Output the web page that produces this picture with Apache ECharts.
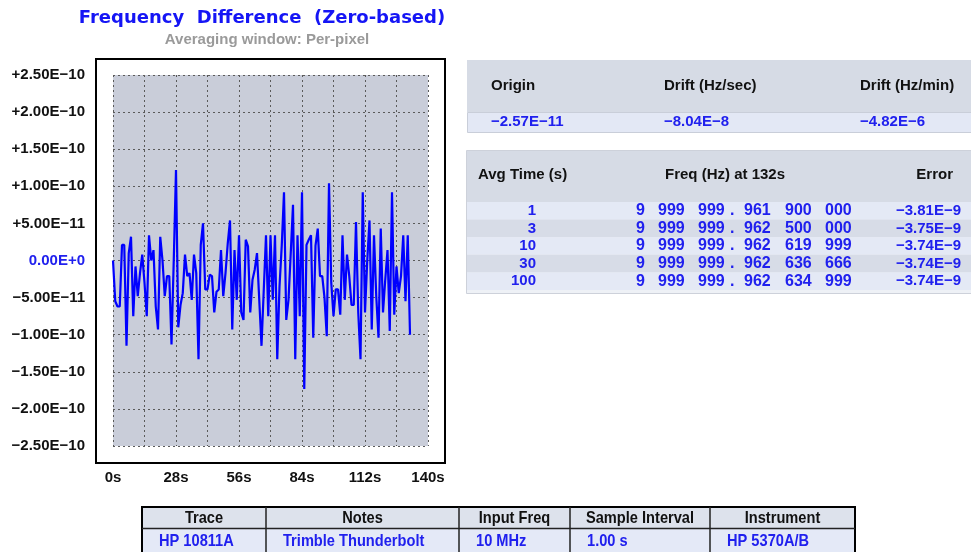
<!DOCTYPE html>
<html>
<head>
<meta charset="utf-8">
<script src="https://cdn.jsdelivr.net/npm/echarts@6/dist/echarts.min.js"></script>
<style>
  html, body { margin: 0; padding: 0; background: #fff; }
  #chart { width: 971px; height: 552px; }
</style>
</head>
<body>
<div id="chart"></div>
<script>
// frequency difference, in units of 1E-10, one sample per second (0..132 s)
const freqDiff = [
  0.0, -0.55, -0.62, -0.62, 0.21, 0.21, -1.15, 0.1, 0.32, -0.75,
  -0.08, -0.48, -0.17, 0.08, -0.3, -0.75, 0.34, 0.0, 0.14, -0.62,
  -0.93, 0.32, 0.0, -0.48, -0.21, -0.21, -1.13, 0.0, 1.22, -0.9,
  -0.6, -0.44, 0.08, -0.21,
  -0.17, -0.53, 0.08, -0.17, -1.33, 0.21, 0.5, -0.39, -0.39, -0.19,
  -0.21, -0.7, -0.42, -0.39, 0.14, -0.48, -0.17, 0.23, 0.54, -0.93,
  0.14, -0.53, 0.34, -0.7, -0.8, 0.28, 0.19, -0.7, -0.26, -0.12,
  0.1, -0.53, -1.15, -0.4,
  0.34, -0.75, 0.34, -0.53, 0.34, -1.33, -0.35, 0.2, 0.92, -0.8,
  -0.53, 0.1, 0.75, -1.33, 0.34, -0.75, 0.92, -1.73, 0.21, 0.28,
  0.34, -1.04, 0.2, 0.43, -0.21, -0.21, -0.5, -1.02, 1.04, -0.3,
  -0.75, -0.39, -0.39, -0.73,
  0.34, -0.53, 0.08, -0.21, -0.6, -0.6, 0.52, -0.7, -1.33, 0.92,
  -0.7, 0.0, 0.54, -0.93, 0.34, -0.48, -1.04, 0.43, -0.7, -0.26,
  0.14, -0.95, 0.92, -0.73, -0.08, -0.44, -0.21, 0.34, -0.55, 0.34,
  -1.0
];
const sampleInterval = 1; // seconds

const xTickLabels = ['0s', '28s', '56s', '84s', '112s', '140s'];
const yTickLabels = ['−2.50E−10', '−2.00E−10', '−1.50E−10', '−1.00E−10', '−5.00E−11',
  '0.00E+0', '+5.00E−11', '+1.00E−10', '+1.50E−10', '+2.00E−10', '+2.50E−10'];

// fit table
const fitHeaders = ['Origin', 'Drift (Hz/sec)', 'Drift (Hz/min)'];
const fitValues = ['−2.57E−11', '−8.04E−8', '−4.82E−6'];

// averaging table
const avgHeaders = ['Avg Time (s)', 'Freq (Hz) at 132s', 'Error'];
const avgTimes = ['1', '3', '10', '30', '100'];
const avgFreqs = [
  ['9', '999', '999', '.', '961', '900', '000'],
  ['9', '999', '999', '.', '962', '500', '000'],
  ['9', '999', '999', '.', '962', '619', '999'],
  ['9', '999', '999', '.', '962', '636', '666'],
  ['9', '999', '999', '.', '962', '634', '999']
];
const avgErrors = ['−3.81E−9', '−3.75E−9', '−3.74E−9', '−3.74E−9', '−3.74E−9'];

// trace info table
const traceHeaders = ['Trace', 'Notes', 'Input Freq', 'Sample Interval', 'Instrument'];
const traceValues = ['HP 10811A', 'Trimble Thunderbolt', '10 MHz', '1.00 s', 'HP 5370A/B'];

const BLUE = '#2020ee';
const FONT = '"Liberation Sans", Arial, sans-serif';

function txt(text, x, y, opts) {
  opts = opts || {};
  return {
    type: 'text',
    z: 10,
    x: x, y: y,
    scaleX: opts.scaleX || 1,
    style: {
      text: text, x: 0, y: 0,
      fill: opts.fill || '#111',
      font: opts.font || ('bold 15px ' + FONT),
      textAlign: opts.align || 'left', align: opts.align || 'left',
      textVerticalAlign: 'middle', verticalAlign: 'middle'
    }
  };
}
function box(x, y, w, h, fill, stroke, lw, z) {
  return {
    type: 'rect', z: z === undefined ? 1 : z,
    shape: { x: x, y: y, width: w, height: h },
    style: { fill: fill, stroke: stroke || null, lineWidth: lw || 0 }
  };
}

const graphics = [];
// titles
graphics.push(txt('Frequency  Difference  (Zero-based)', 262, 18,
  { fill: '#1515f5', font: 'bold 18px "DejaVu Sans", Verdana, sans-serif', align: 'center' }));
graphics.push(txt('Averaging window: Per-pixel', 267, 40,
  { fill: '#9a9a9a', font: 'bold 15px ' + FONT, align: 'center' }));
// chart frame
graphics.push(box(96, 59, 349, 404, '#fff', '#000', 2, -10));

// fit table
graphics.push(box(467, 60, 520, 52, '#d6dbe5'));
graphics.push(box(467.5, 112.5, 520, 20, '#e3e8f5', '#c9ced9', 1));
const fitX = [491, 664, 860];
fitHeaders.forEach((h, i) => graphics.push(txt(h, fitX[i], 86)));
fitValues.forEach((v, i) => graphics.push(txt(v, fitX[i], 122, { fill: BLUE })));

// averaging table
graphics.push(box(466.5, 150.5, 520, 143, '#eef1f6', '#cdd1da', 1));
graphics.push(box(467, 151, 520, 51, '#d6dbe5'));
graphics.push(txt(avgHeaders[0], 478, 175));
graphics.push(txt(avgHeaders[1], 665, 175));
graphics.push(txt(avgHeaders[2], 953, 175, { align: 'right' }));
const rowTop = 202, rowH = 17.6;
const groupX = [636, 658, 698, 730, 744, 785, 825];
avgTimes.forEach((t, r) => {
  const yc = rowTop + rowH * r + rowH / 2;
  graphics.push(box(467, rowTop + rowH * r, 520, rowH, r % 2 === 0 ? '#e4e9f5' : '#d7dce7'));
  graphics.push(txt(t, 536, yc, { fill: BLUE, align: 'right' }));
  avgFreqs[r].forEach((g, k) => graphics.push(txt(g, groupX[k], yc,
    { fill: BLUE, font: 'bold 16px ' + FONT })));
  graphics.push(txt(avgErrors[r], 961, yc, { fill: BLUE, align: 'right' }));
});

// trace table
const colEdges = [142, 266, 459, 570, 710, 855];
const narrow = 'bold 17px ' + FONT;
graphics.push(box(142, 507, 713, 21, '#dde2ec'));
graphics.push(box(142, 528, 713, 30, '#e4e9f7'));
graphics.push({
  type: 'rect', z: 5, shape: { x: 142, y: 507, width: 713, height: 60 },
  style: { fill: null, stroke: '#000', lineWidth: 2 }
});
graphics.push({
  type: 'line', z: 5, shape: { x1: 142, y1: 528.5, x2: 855, y2: 528.5 },
  style: { stroke: '#222', lineWidth: 1.5 }
});
traceHeaders.forEach((h, i) => {
  if (i > 0) {
    graphics.push({
      type: 'line', z: 5, shape: { x1: colEdges[i], y1: 507, x2: colEdges[i], y2: 552 },
      style: { stroke: '#222', lineWidth: 1.5 }
    });
  }
  graphics.push(txt(h, (colEdges[i] + colEdges[i + 1]) / 2, 518,
    { font: narrow, align: 'center', scaleX: 0.86 }));
  graphics.push(txt(traceValues[i], colEdges[i] + 17, 541,
    { font: narrow, fill: BLUE, scaleX: 0.86 }));
});

const chart = echarts.init(document.getElementById('chart'), null, { renderer: 'canvas' });
const axisFont = { color: '#111', fontWeight: 'bold', fontSize: 15, fontFamily: 'Liberation Sans' };
chart.setOption({
  animation: false,
  backgroundColor: '#fff',
  grid: {
    left: 113, top: 75, width: 315, height: 371,
    show: true, backgroundColor: '#c9cdd9', borderWidth: 0
  },
  xAxis: {
    type: 'value', min: 0, max: 140, interval: 14,
    axisLine: { show: false }, axisTick: { show: false },
    splitLine: { show: true, lineStyle: { color: '#5a5a5a', width: 1, type: [2, 3] } },
    axisLabel: Object.assign({
      margin: 24, showMinLabel: true, showMaxLabel: true,
      formatter: v => (Math.round(v) % 28 === 0 ? xTickLabels[Math.round(v) / 28] : '')
    }, axisFont)
  },
  yAxis: {
    type: 'value', min: -2.5, max: 2.5, interval: 0.5,
    axisLine: { show: false }, axisTick: { show: false },
    splitLine: { show: true, lineStyle: { color: '#5a5a5a', width: 1, type: [2, 3] } },
    axisLabel: Object.assign({
      margin: 28, showMinLabel: true, showMaxLabel: true,
      formatter: v => {
        const i = Math.round((v + 2.5) / 0.5);
        return i === 5 ? '{z|' + yTickLabels[i] + '}' : yTickLabels[i];
      },
      rich: { z: { color: BLUE, fontWeight: 'bold', fontSize: 15, fontFamily: 'Liberation Sans' } }
    }, axisFont)
  },
  series: [{
    type: 'line',
    data: freqDiff.map((v, i) => [i * sampleInterval, v]),
    showSymbol: false,
    symbol: 'none',
    lineStyle: { color: '#0000ff', width: 2.2 },
    z: 3
  }],
  graphic: graphics
});
</script>
</body>
</html>
